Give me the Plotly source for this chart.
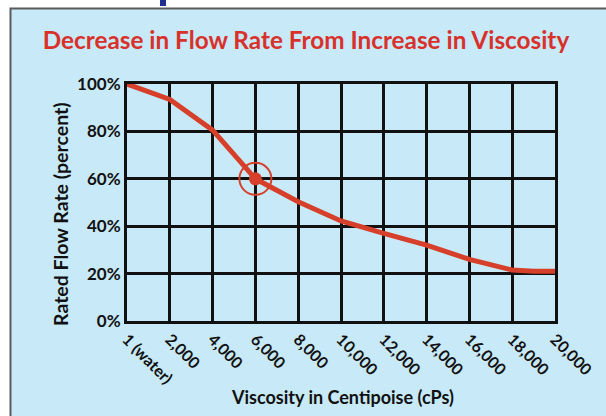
import plotly.graph_objects as go

viscosity = [1, 2000, 4000, 6000, 8000, 10000, 12000, 14000, 16000, 18000, 19000, 20000]
flow_rate = [100, 93.5, 80.5, 60, 50.3, 42.2, 37, 32, 26, 21.5, 21, 21]
tick_vals = [1, 2000, 4000, 6000, 8000, 10000, 12000, 14000, 16000, 18000, 20000]
tick_text = ["1 (water)", "2,000", "4,000", "6,000", "8,000", "10,000", "12,000",
             "14,000", "16,000", "18,000", "20,000"]
y_ticks = [0, 20, 40, 60, 80, 100]
y_text = ["0%", "20%", "40%", "60%", "80%", "100%"]
highlight_x = [6000]
highlight_y = [60]

RED = "#d6402b"
BLUE = "#c8e9f8"
FONT = "Lato, Roboto, sans-serif"

fig = go.Figure()
fig.add_trace(go.Scatter(x=viscosity, y=flow_rate, mode="lines",
                         line=dict(color=RED, width=5), hoverinfo="skip"))
fig.add_trace(go.Scatter(x=highlight_x, y=highlight_y, mode="markers",
                         marker=dict(size=32, color="rgba(0,0,0,0)",
                                     line=dict(color=RED, width=2)), hoverinfo="skip"))
fig.add_trace(go.Scatter(x=highlight_x, y=highlight_y, mode="markers",
                         marker=dict(size=13, color=RED), hoverinfo="skip"))

L, T, W, H = 127, 84, 428, 237

def px_x(p):
    return (p - L) / W

def px_y(p):
    return (T + H - p) / H

fig.add_shape(type="rect", xref="paper", yref="paper",
              x0=px_x(10.5), x1=px_x(640), y0=px_y(460), y1=px_y(8.5),
              fillcolor=BLUE, line=dict(color="#5a5a5a", width=2), layer="below")
fig.add_shape(type="rect", xref="paper", yref="paper",
              x0=px_x(160), x1=px_x(166), y0=px_y(6), y1=px_y(-2),
              fillcolor="#1f2f8f", line=dict(width=0), layer="below")

fig.add_annotation(text="<b>Viscosity in Centipoise (cPs)</b>", xref="paper", yref="paper",
                   x=px_x(342), y=px_y(397), xanchor="center", yanchor="middle",
                   showarrow=False, font=dict(size=18, color="#111111", family=FONT))
fig.add_annotation(text="<b>Rated Flow Rate (percent)</b>", xref="paper", yref="paper",
                   x=px_x(60), y=px_y(214), xanchor="center", yanchor="middle", textangle=-90,
                   showarrow=False, font=dict(size=19.5, color="#111111", family=FONT))

fig.update_layout(
    width=606, height=416,
    margin=dict(l=L, r=606 - L - W, t=T, b=416 - T - H, autoexpand=False),
    paper_bgcolor="white", plot_bgcolor=BLUE,
    showlegend=False,
    font=dict(family=FONT, color="#111111"),
    title=dict(text="<b>Decrease in Flow Rate From Increase in Viscosity</b>",
               x=px_x(306), xref="paper", xanchor="center", y=1 - 40 / 416, yanchor="middle",
               font=dict(size=24.3, color="#d8312c", family=FONT)),
    xaxis=dict(range=[0, 20000], tickvals=tick_vals, ticktext=[f"<b>{t}</b>" for t in tick_text],
               tickangle=45, tickfont=dict(size=16, color="#111111"), automargin=False,
               showgrid=True, gridcolor="#111111", gridwidth=2.5,
               showline=True, linecolor="#111111", linewidth=3, mirror=True,
               zeroline=False, ticks=""),
    yaxis=dict(range=[0, 100], tickvals=y_ticks, ticktext=[f"<b>{t}</b>" for t in y_text],
               tickfont=dict(size=17, color="#111111"), automargin=False,
               showgrid=True, gridcolor="#111111", gridwidth=2.5,
               showline=True, linecolor="#111111", linewidth=3, mirror=True,
               zeroline=False, ticks=""),
)

fig.write_html("out.html", config={"displayModeBar": False},
               post_script="document.body.style.margin='0';")
